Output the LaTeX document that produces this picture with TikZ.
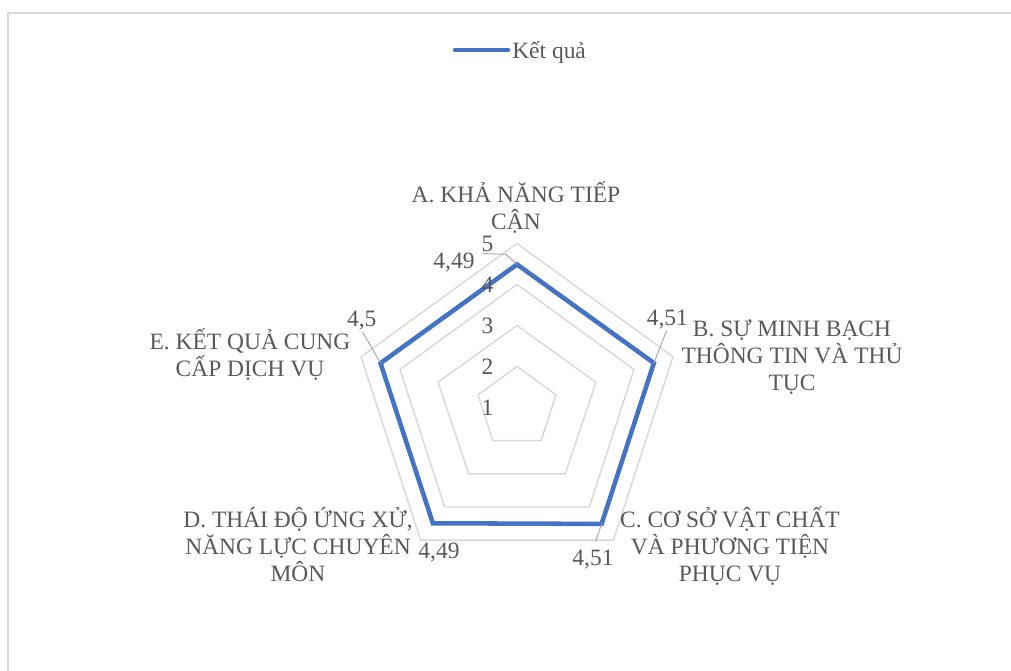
\documentclass[tikz,border=0pt]{standalone}
\usepackage{fontspec}
\setmainfont{Liberation Serif}
\definecolor{gridgray}{RGB}{217,217,217}
\definecolor{seriesblue}{RGB}{68,114,196}
\definecolor{txtgray}{RGB}{89,89,89}
\definecolor{leadgray}{RGB}{166,166,166}

\begin{document}
\begin{tikzpicture}[x=0.75pt,y=0.75pt,yscale=-1,xscale=1,
  gridline/.style={draw=gridgray,line width=1.1pt},
  series/.style={draw=seriesblue,line width=3.4pt},
  leader/.style={draw=leadgray,line width=0.7pt},
  lbl/.style={text=txtgray,font=\fontsize{17.6}{20.25}\selectfont,inner sep=0pt,align=center}]
\useasboundingbox (0,0) rectangle (1011,671);

%Shape: Frame
\draw [gridgray,line width=0.8pt] (8,671) -- (8,13) -- (1011,13) ;

%Shape: Pentagon 2
\draw [gridline] (517,366.5) -- (556,394.83) -- (541.1,440.67) -- (492.9,440.67) -- (478,394.83) -- cycle ;
%Shape: Pentagon 3
\draw [gridline] (517,325.5) -- (595.99,382.16) -- (565.2,473.84) -- (468.8,473.84) -- (438.01,382.16) -- cycle ;
%Shape: Pentagon 4
\draw [gridline] (517,284.5) -- (633.99,369.49) -- (589.3,507.01) -- (444.7,507.01) -- (400.01,369.49) -- cycle ;
%Shape: Pentagon 5
\draw [gridline] (517,243.5) -- (672.98,356.82) -- (613.4,540.18) -- (420.6,540.18) -- (361.02,356.82) -- cycle ;

% Data points
\coordinate (pA) at (517,264.41) ;
\coordinate (pB) at (653.87,363.03) ;
\coordinate (pC) at (601.59,523.92) ;
\coordinate (pD) at (432.89,523.26) ;
\coordinate (pE) at (380.52,363.16) ;

%Shape: Series
\draw [series] (pA) -- (pB) -- (pC) -- (pD) -- (pE) -- cycle ;

% Text Node
\draw (493.5,407.5) node [lbl,anchor=east] (s1) {1};
% Text Node
\draw (493.5,366.5) node [lbl,anchor=east] (s2) {2};
% Text Node
\draw (493.5,325.5) node [lbl,anchor=east] (s3) {3};
% Text Node
\draw (493.5,284.5) node [lbl,anchor=east] (s4) {4};
% Text Node
\draw (493.5,243.5) node [lbl,anchor=east] (s5) {5};

% Text Node
\draw (454,268) node [lbl,anchor=base] (vA) {4,49};
% Text Node
\draw (667.3,325) node [lbl,anchor=base] (vB) {4,51};
% Text Node
\draw (593,565) node [lbl,anchor=base] (vC) {4,51};
% Text Node
\draw (439,558.3) node [lbl,anchor=base] (vD) {4,49};
% Text Node
\draw (361.7,326.7) node [lbl,anchor=base] (vE) {4,5};

%Straight Lines
\draw [leader] (vA.east) ++(8,-8.5) -- ++(23,0.7) -- (pA) ;
\draw [leader,shorten <=1.5pt] (vB.south) -- (pB) ;
\draw [leader,shorten >=6pt] (pC) -- (vC.north) ;
\draw [leader,shorten <=1.5pt] (vE.south) -- (pE) ;

% Text Node
\draw (516,229.3) node [lbl,anchor=base] (cA) {A. KHẢ NĂNG TIẾP\\CẬN};
% Text Node
\draw (792,390.7) node [lbl,anchor=base] (cB) {B. SỰ MINH BẠCH\\THÔNG TIN VÀ THỦ\\TỤC};
% Text Node
\draw (730,581.7) node [lbl,anchor=base] (cC) {C. CƠ SỞ VẬT CHẤT\\VÀ PHƯƠNG TIỆN\\PHỤC VỤ};
% Text Node
\draw (298,581.7) node [lbl,anchor=base] (cD) {D. THÁI ĐỘ ỨNG XỬ,\\NĂNG LỰC CHUYÊN\\MÔN};
% Text Node
\draw (250,376) node [lbl,anchor=base] (cE) {E. KẾT QUẢ CUNG\\CẤP DỊCH VỤ};

%Legend
\coordinate (lg1) at (455,50) ;
\coordinate (lg2) at (508,50) ;
\draw [series,line cap=round] (lg1) -- (lg2) ;
% Text Node
\draw (512,58) node [lbl,anchor=base west] (lgt) {Kết quả};

\end{tikzpicture}
\end{document}
